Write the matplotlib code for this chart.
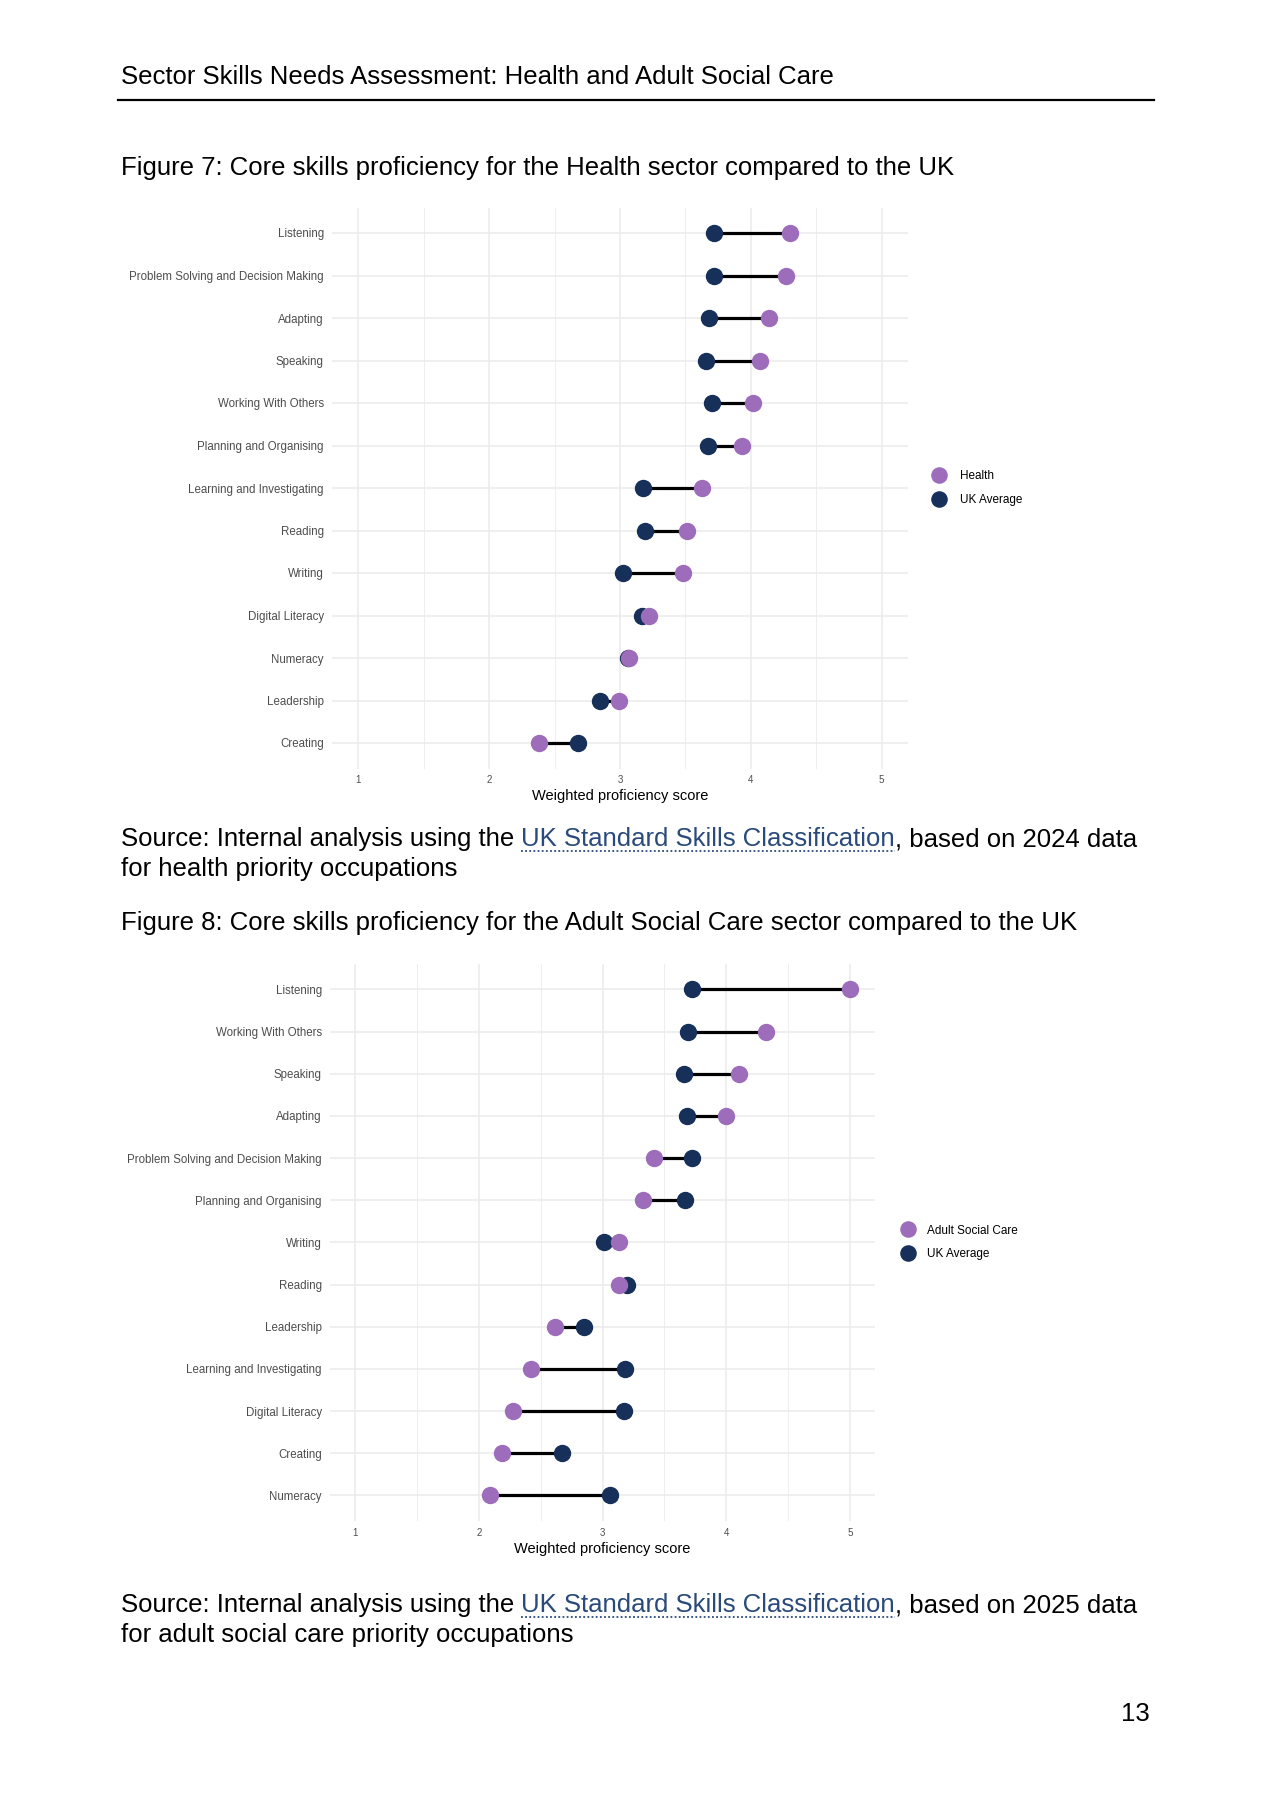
import matplotlib
matplotlib.use('Agg')
import matplotlib.pyplot as plt
from matplotlib.lines import Line2D

plt.rcParams['font.family'] = ['Liberation Sans', 'DejaVu Sans']

W, H, DPI = 1273, 1800, 100

# ---------------- data ----------------
health_skills = ['Listening', 'Problem Solving and Decision Making', 'Adapting', 'Speaking',
                 'Working With Others', 'Planning and Organising', 'Learning and Investigating',
                 'Reading', 'Writing', 'Digital Literacy', 'Numeracy', 'Leadership', 'Creating']
health_sector = [4.30, 4.27, 4.14, 4.07, 4.02, 3.93, 3.63, 3.51, 3.48, 3.22, 3.07, 2.99, 2.38]
health_uk = [3.72, 3.72, 3.68, 3.66, 3.70, 3.67, 3.18, 3.19, 3.02, 3.17, 3.06, 2.85, 2.68]

asc_skills = ['Listening', 'Working With Others', 'Speaking', 'Adapting',
              'Problem Solving and Decision Making', 'Planning and Organising', 'Writing',
              'Reading', 'Leadership', 'Learning and Investigating', 'Digital Literacy',
              'Creating', 'Numeracy']
asc_sector = [5.00, 4.32, 4.10, 4.00, 3.42, 3.33, 3.13, 3.13, 2.62, 2.42, 2.28, 2.19, 2.09]
asc_uk = [3.72, 3.69, 3.66, 3.68, 3.72, 3.67, 3.01, 3.20, 2.85, 3.18, 3.17, 2.67, 3.06]

x_ticks = [1, 2, 3, 4, 5]
x_minor = [1.5, 2.5, 3.5, 4.5]

PURPLE = '#9d6dbb'
NAVY = '#17305a'
GRID = '#ebebeb'
LINK = '#294a7a'

fig = plt.figure(figsize=(W / DPI, H / DPI), dpi=DPI)
fig.patch.set_facecolor('white')


def px_axes(left, top, right, bottom):
    return fig.add_axes([left / W, 1 - bottom / H, (right - left) / W, (bottom - top) / H])


def dumbbell(ax, skills, sector, uk, sector_label, leg_x, leg_pad, lab_pad):
    n = len(skills)
    ys = list(range(n))
    ax.set_xlim(0.8, 5.2)
    ax.set_ylim(n - 1 + 0.6, -0.6)
    for sp in ax.spines.values():
        sp.set_visible(False)
    ax.set_xticks(x_ticks)
    ax.set_xticklabels([str(t) for t in x_ticks])
    ax.set_xticks(x_minor, minor=True)
    ax.set_yticks(ys)
    ax.set_yticklabels(skills)
    ax.tick_params(axis='both', which='both', length=0)
    ax.tick_params(axis='y', pad=6, labelsize=8.3, labelcolor='#4d4d4d')
    ax.tick_params(axis='x', pad=5, labelsize=7, labelcolor='#4d4d4d')
    ax.grid(True, which='major', color=GRID, lw=1.1)
    ax.grid(True, which='minor', axis='x', color=GRID, lw=0.6)
    ax.set_axisbelow(True)
    ax.hlines(ys, uk, sector, color='black', lw=2.3, zorder=2)
    h_uk, = ax.plot(uk, ys, 'o', ms=11.5, color=NAVY, ls='none', zorder=3, label='UK Average')
    h_s, = ax.plot(sector, ys, 'o', ms=11.5, color=PURPLE, ls='none', zorder=4, label=sector_label)
    ax.set_xlabel('Weighted proficiency score', fontsize=10.5, color='black', labelpad=lab_pad)
    ax.legend(handles=[h_s, h_uk], loc='center left', bbox_to_anchor=(leg_x, 0.5),
              frameon=False, fontsize=8.5, handlelength=1.2, handletextpad=leg_pad,
              labelspacing=1.0, markerscale=0.95)


ax1 = px_axes(332.2, 207.5, 907.7, 768.5)
dumbbell(ax1, health_skills, health_sector, health_uk, 'Health', 1.024, 1.15, 2.5)

ax2 = px_axes(330.3, 964.2, 874.7, 1520.7)
dumbbell(ax2, asc_skills, asc_sector, asc_uk, 'Adult Social Care', 1.028, 1.05, 3.0)

# ---------------- page text ----------------
renderer = fig.canvas.get_renderer()
FS = 18.5


def text_width(s, size):
    t = fig.text(0, 0, s + '.', fontsize=size)
    d = fig.text(0, 0, '.', fontsize=size)
    w = t.get_window_extent(renderer=renderer).width - d.get_window_extent(renderer=renderer).width
    t.remove()
    d.remove()
    return w


def runs(x, y, parts, size=FS):
    for txt, color, link in parts:
        fig.text(x / W, 1 - y / H, txt, fontsize=size, color=color, va='baseline', ha='left')
        w = text_width(txt, size)
        if link:
            fig.add_artist(Line2D([x / W, (x + w) / W], [1 - (y + 5) / H, 1 - (y + 5) / H],
                                  transform=fig.transFigure, color=LINK, lw=1.3,
                                  ls=(0, (1, 1.3))))
        x += w


runs(121, 84, [('Sector Skills Needs Assessment: Health and Adult Social Care', 'black', False)])
fig.add_artist(Line2D([118 / W, 1154 / W], [1 - 100 / H, 1 - 100 / H],
                      transform=fig.transFigure, color='black', lw=1.6))

runs(121, 175, [('Figure 7: Core skills proficiency for the Health sector compared to the UK', 'black', False)])
runs(121, 846, [('Source: Internal analysis using the ', 'black', False),
                ('UK Standard Skills Classification', LINK, True),
                (', based on 2024 data', 'black', False)])
runs(121, 876, [('for health priority occupations', 'black', False)])

runs(121, 930, [('Figure 8: Core skills proficiency for the Adult Social Care sector compared to the UK', 'black', False)])
runs(121, 1612, [('Source: Internal analysis using the ', 'black', False),
                 ('UK Standard Skills Classification', LINK, True),
                 (', based on 2025 data', 'black', False)])
runs(121, 1642, [('for adult social care priority occupations', 'black', False)])

fig.text(1150 / W, 1 - 1721 / H, '13', fontsize=FS, ha='right', va='baseline', color='black')

fig.savefig('out.png', dpi=DPI)
